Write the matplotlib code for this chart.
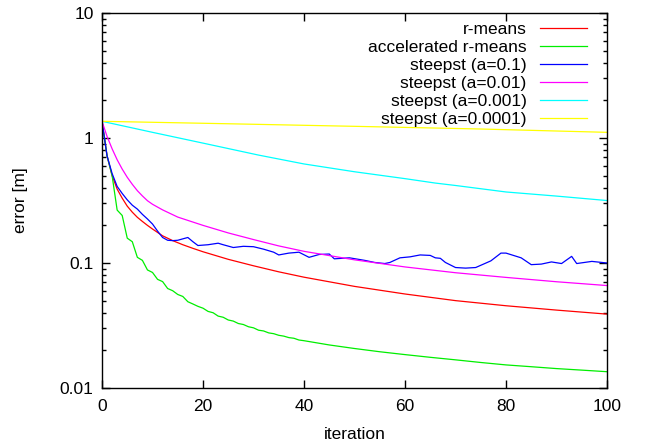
import matplotlib
matplotlib.use("Agg")
import matplotlib.pyplot as plt
from matplotlib.ticker import FixedLocator, FixedFormatter, LogLocator, NullFormatter, NullLocator

# ---------------- data ----------------
rmeans_iter = [0, 1, 2, 3, 4, 5, 6, 7, 8, 9, 10, 12, 14, 16, 18, 20, 25, 30, 35, 40, 50, 60, 70, 80, 90, 100]
rmeans_err = [1.36, 0.72, 0.50, 0.39, 0.33, 0.285, 0.255, 0.232, 0.215, 0.200, 0.187, 0.165, 0.151, 0.140,
              0.131, 0.123, 0.107, 0.095, 0.085, 0.077, 0.065, 0.0565, 0.050, 0.0455, 0.042, 0.039]

accel_iter = list(range(0, 41)) + [45, 50, 55, 60, 65, 70, 75, 80, 85, 90, 95, 100]
accel_err = [1.36, 0.72, 0.50, 0.265, 0.240, 0.158, 0.148, 0.111, 0.105, 0.088, 0.084,
             0.074, 0.071, 0.0625, 0.060, 0.056, 0.054, 0.049, 0.047, 0.045, 0.0435,
             0.041, 0.040, 0.0376, 0.0368, 0.035, 0.0343, 0.0328, 0.0322, 0.0309, 0.0303,
             0.0290, 0.0286, 0.0276, 0.0272, 0.0264, 0.0260, 0.0253, 0.0250, 0.0242, 0.0239,
             0.0221, 0.0207, 0.0195, 0.0185, 0.0176, 0.0168, 0.0160, 0.0153, 0.0148, 0.0143, 0.0139, 0.0135]

st01_iter = [0, 1, 2, 3, 4, 5, 6, 7, 8, 9, 10, 11, 12, 13, 14, 15, 16, 17, 18, 19, 21, 23, 24, 26, 28,
             30, 32, 34, 35, 37, 39, 41, 43, 45, 46, 49, 52, 54, 56, 57, 59, 61, 63, 65, 66, 67,
             68, 70, 72, 74, 77, 79, 80, 83, 85, 87, 89, 91, 93, 94, 97, 99, 100]
st01_err = [1.36, 0.72, 0.52, 0.41, 0.36, 0.32, 0.29, 0.27, 0.245, 0.225, 0.205, 0.180, 0.160, 0.152,
            0.151, 0.152, 0.156, 0.160, 0.148, 0.138, 0.140, 0.144, 0.140, 0.133, 0.136,
            0.135, 0.129, 0.122, 0.116, 0.120, 0.122, 0.111, 0.117, 0.118, 0.108, 0.110, 0.105, 0.101, 0.099,
            0.101, 0.110, 0.112, 0.116, 0.115, 0.110, 0.109, 0.101, 0.092, 0.091, 0.092, 0.104, 0.120,
            0.120, 0.110, 0.097, 0.098, 0.102, 0.099, 0.113, 0.099, 0.103, 0.101, 0.100]

st001_iter = [0, 1, 2, 3, 4, 5, 6, 7, 8, 9, 10, 12, 15, 20, 25, 30, 35, 40, 50, 60, 70, 80, 90, 100]
st001_err = [1.36, 1.03, 0.82, 0.67, 0.564, 0.485, 0.426, 0.379, 0.344, 0.315, 0.295, 0.266, 0.233,
             0.200, 0.174, 0.154, 0.137, 0.124, 0.106, 0.093, 0.0836, 0.0767, 0.0708, 0.066]

st0001_iter = [0, 10, 20, 31, 40, 50, 60, 66, 70, 80, 90, 100]
st0001_err = [1.36, 1.11, 0.91, 0.73, 0.62, 0.537, 0.473, 0.436, 0.417, 0.37, 0.343, 0.316]

st00001_iter = [0, 25, 50, 75, 100]
st00001_err = [1.36, 1.30, 1.24, 1.18, 1.11]

series = [
    ("r-means", rmeans_iter, rmeans_err, "#ff0000"),
    ("accelerated r-means", accel_iter, accel_err, "#00ee00"),
    ("steepst (a=0.1)", st01_iter, st01_err, "#0000ff"),
    ("steepst (a=0.01)", st001_iter, st001_err, "#ff00ff"),
    ("steepst (a=0.001)", st0001_iter, st0001_err, "#00ffff"),
    ("steepst (a=0.0001)", st00001_iter, st00001_err, "#ffff00"),
]

x_ticks = [0, 20, 40, 60, 80, 100]
y_ticks = [0.01, 0.1, 1, 10]
y_tick_labels = ["0.01", "0.1", "1", "10"]

# ---------------- plot ----------------
plt.rcParams['font.family'] = ['Liberation Sans', 'DejaVu Sans']
plt.rcParams['font.size'] = 12

fig = plt.figure(figsize=(6.48, 4.45), dpi=100)
ax = fig.add_axes([102 / 648, 1 - 388 / 445, (607 - 102) / 648, (388 - 13) / 445])

for name, xs, ys, col in series:
    ax.plot(xs, ys, color=col, lw=0.9, label=name)

ax.set_yscale('log')
ax.set_xlim(0, 100)
ax.set_ylim(0.01, 10)
ax.xaxis.set_major_locator(FixedLocator(x_ticks))
ax.xaxis.set_minor_locator(NullLocator())
ax.yaxis.set_major_locator(FixedLocator(y_ticks))
ax.yaxis.set_major_formatter(FixedFormatter(y_tick_labels))
ax.yaxis.set_minor_locator(LogLocator(base=10, subs=range(2, 10)))
ax.yaxis.set_minor_formatter(NullFormatter())

ax.tick_params(which='both', direction='in', top=True, right=True, color='black', labelsize=12.5)
ax.tick_params(which='major', length=6, width=1)
ax.tick_params(which='minor', length=3, width=1)
ax.tick_params(axis='x', pad=8)
ax.tick_params(axis='y', pad=6)
for s in ax.spines.values():
    s.set_linewidth(1.0)
    s.set_color('black')

ax.set_xlabel("iteration", fontsize=12.5, labelpad=9)
ax.set_ylabel("error [m]", fontsize=12.5, labelpad=23)

leg = ax.legend(loc='upper right', frameon=False, markerfirst=False, fontsize=12.5,
                handlelength=2.75, handletextpad=0.75, labelspacing=0.16,
                borderaxespad=0.0, bbox_to_anchor=(0.975, 0.995))

fig.savefig("out.png", dpi=100)
